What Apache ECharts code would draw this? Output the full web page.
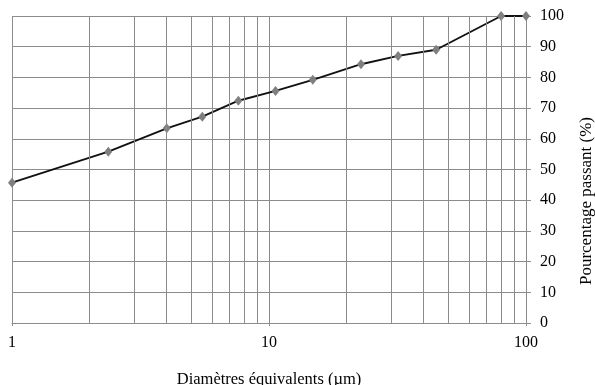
<!DOCTYPE html>
<html>
<head>
<meta charset="utf-8">
<script src="https://cdn.jsdelivr.net/npm/echarts@6/dist/echarts.min.js"></script>
<style>
html, body { margin: 0; padding: 0; background: #fff; }
#chart { width: 595px; height: 385px; }
</style>
</head>
<body>
<div id="chart"></div>
<script>
// diamètres (µm) et pourcentage passant (%)
var diameters = [1, 2.37, 4.0, 5.5, 7.6, 10.6, 14.8, 22.8, 31.8, 44.7, 80, 100];
var passing = [45.7, 55.8, 63.4, 67.2, 72.4, 75.6, 79.2, 84.3, 87.0, 89.0, 100, 100];
// lignes secondaires de la grille log
var minorGrid = [2, 3, 4, 5, 6, 7, 8, 9, 20, 30, 40, 50, 60, 70, 80, 90];
var xName = "Diamètres équivalents (µm)";
var yName = "Pourcentage passant (%)";

var gridColor = "#8c8c8c";
var font = "Liberation Serif";

var chart = echarts.init(document.getElementById("chart"));

var points = [];
for (var i = 0; i < diameters.length; i++) {
    points.push([diameters[i], passing[i]]);
}

var option = {
    backgroundColor: "#fff",
    animation: false,
    grid: { left: 12, right: 69, top: 16, bottom: 62, outerBoundsMode: "none", containLabel: false },
    xAxis: {
        type: "log",
        logBase: 10,
        min: 1,
        max: 100,
        name: xName,
        nameLocation: "middle",
        nameGap: 48,
        nameTextStyle: { fontFamily: font, fontSize: 16.5, color: "#000" },
        axisLine: { show: true, lineStyle: { color: gridColor, width: 1 } },
        axisTick: { show: true, length: 3, lineStyle: { color: gridColor } },
        axisLabel: { fontFamily: font, fontSize: 16, color: "#000", margin: 12 },
        splitLine: { show: true, lineStyle: { color: gridColor, width: 1 } }
    },
    yAxis: {
        type: "value",
        position: "right",
        min: 0,
        max: 100,
        interval: 10,
        axisLine: { show: true, lineStyle: { color: gridColor, width: 1 } },
        axisTick: { show: true, length: 5, lineStyle: { color: gridColor } },
        axisLabel: { fontFamily: font, fontSize: 16, color: "#000", margin: 14, align: "left" },
        splitLine: { show: true, lineStyle: { color: gridColor, width: 1 } }
    },
    graphic: [
        {
            type: "text",
            left: 578,
            top: 117,
            rotation: Math.PI / 2,
            originX: 0,
            originY: 0,
            style: {
                text: yName,
                font: "17px '" + font + "'",
                fill: "#000"
            }
        }
    ],
    series: [
        {
            type: "line",
            data: points,
            symbol: "diamond",
            symbolSize: [8, 10],
            lineStyle: { color: "#111", width: 1.9 },
            itemStyle: { color: "#7f7f7f" },
            markLine: {
                silent: true,
                symbol: "none",
                label: { show: false },
                lineStyle: { color: gridColor, type: "solid", width: 1 },
                data: minorGrid.map(function (v) { return { xAxis: v }; })
            },
            z: 3
        }
    ]
};

chart.setOption(option);
</script>
</body>
</html>
